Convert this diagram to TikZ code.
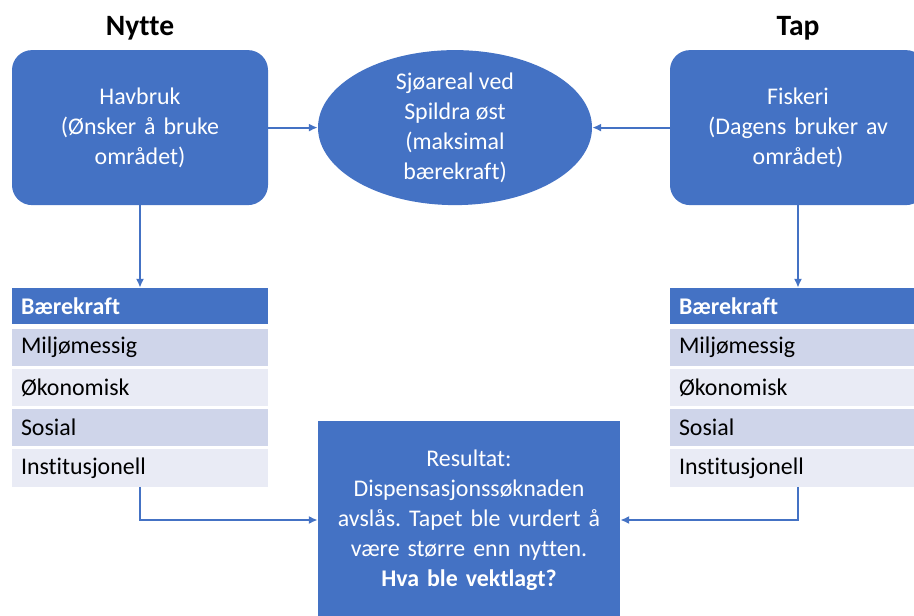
\documentclass[tikz,border=0pt]{standalone}
\usepackage{fontspec}
\setmainfont[Ligatures=NoCommon]{Carlito}
\usepackage{tikz}
\usetikzlibrary{shapes,arrows.meta,positioning}
\definecolor{boxblue}{HTML}{4472C4}
\definecolor{rowdark}{HTML}{CFD5EA}
\definecolor{rowlight}{HTML}{E9EBF5}
\frenchspacing
\tikzset{
  every node/.style={
    font=\fontsize{17}{21.3}\selectfont
  },
  heading/.style={
    font=\fontsize{21}{25}\selectfont\bfseries
  },
  usecase/.style={
    shape=rectangle,
    rounded corners=0.5cm,
    fill=boxblue,
    text=white,
    inner sep=0pt,
    text width=6.4cm,
    minimum height=3.875cm,
    align=center
  },
  area/.style={
    shape=ellipse,
    fill=boxblue,
    text=white,
    inner xsep=0pt,
    inner ysep=-0.2cm,
    minimum width=6.85cm,
    minimum height=3.875cm,
    align=center
  },
  result/.style={
    shape=rectangle,
    fill=boxblue,
    text=white,
    inner sep=0pt,
    text width=7.55cm,
    minimum height=4.95cm,
    align=center
  },
  tabhead/.style={
    shape=rectangle,
    fill=boxblue,
    text=white,
    font=\fontsize{17}{21}\selectfont\bfseries,
    inner xsep=0.225cm,
    inner ysep=0pt,
    text width=5.95cm,
    minimum height=0.9cm,
    align=left
  },
  rowdark/.style={
    shape=rectangle,
    fill=rowdark,
    text=black,
    inner xsep=0.225cm,
    inner ysep=0pt,
    text width=5.95cm,
    minimum height=0.94cm,
    align=left
  },
  rowlight/.style={
    rowdark,
    fill=rowlight
  },
  link/.style={
    draw=boxblue,
    line width=1.3pt,
    -{Latex[length=2.2mm,width=2mm]}
  }
}

\begin{document}
\begin{tikzpicture}
    \clip (0,0) rectangle (22.85,-15.375);
    % top row
    \node [heading] (nytte) at (3.5,-0.7) {Nytte};
    \node [heading] (tap) at (19.95,-0.7) {Tap};
    \node [usecase] (havbruk) at (3.5,-3.19) {
      Havbruk\\(Ønsker å bruke\\området)
    };
    \node [area] (sjo) at (11.375,-3.19) {
      Sjøareal ved\\Spildra øst\\(maksimal\\bærekraft)
    };
    \node [usecase] (fiskeri) at (19.95,-3.19) {
      Fiskeri\\(Dagens bruker av\\området)
    };

    % left table
    \node [tabhead] (barL) at (3.5,-7.65) {Bærekraft};
    \node [rowdark, below=0.1cm of barL] (milL) {Miljømessig};
    \node [rowlight, below=0.05cm of milL] (okoL) {Økonomisk};
    \node [rowdark, below=0.05cm of okoL] (sosL) {Sosial};
    \node [rowlight, below=0.05cm of sosL] (insL) {Institusjonell};

    % right table
    \node [tabhead] (barR) at (19.95,-7.65) {Bærekraft};
    \node [rowdark, below=0.1cm of barR] (milR) {Miljømessig};
    \node [rowlight, below=0.05cm of milR] (okoR) {Økonomisk};
    \node [rowdark, below=0.05cm of okoR] (sosR) {Sosial};
    \node [rowlight, below=0.05cm of sosR] (insR) {Institusjonell};

    \node [result] (resultat) at (11.725,-13.0) {
      Resultat:\\Dispensasjonssøknaden\\avslås. Tapet ble vurdert å\\
      være større enn nytten.\\\textbf{Hva ble vektlagt?}
    };

    % connectors
    \draw [link] (havbruk.east) -- (sjo.west);
    \draw [link] (fiskeri.west) -- (sjo.east);
    \draw [link] (havbruk.south) -- (barL.north);
    \draw [link] (fiskeri.south) -- (barR.north);
    \draw [link] (insL.south) |- (resultat.west);
    \draw [link] (insR.south) |- (resultat.east);
\end{tikzpicture}
\end{document}
